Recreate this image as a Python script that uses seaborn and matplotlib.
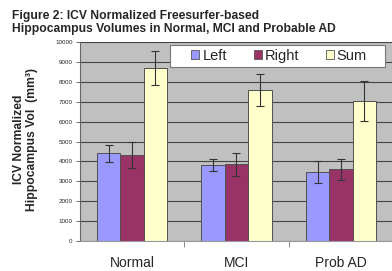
import matplotlib
matplotlib.use("Agg")
import matplotlib.pyplot as plt
import matplotlib.patches as mpatches
import seaborn as sns
import pandas as pd

groups = ["Normal", "MCI", "Prob AD"]
series = ["Left", "Right", "Sum"]
left_vals = [4400, 3800, 3470]
right_vals = [4320, 3850, 3600]
sum_vals = [8700, 7600, 7020]
left_err = [450, 300, 570]
right_err = [650, 580, 510]
sum_err = [860, 810, 1010]
colors = ["#9999ff", "#993366", "#ffffcc"]

df = pd.DataFrame({
    "group": groups * 3,
    "series": [s for s in series for _ in groups],
    "vol": left_vals + right_vals + sum_vals,
    "err": left_err + right_err + sum_err,
})

sns.set_style("white")
plt.rcParams["font.family"] = ["Liberation Sans", "DejaVu Sans"]

fig = plt.figure(figsize=(3.92, 2.71), dpi=100)
ax = fig.add_axes([0.2033, 0.1107, 0.80, 0.734])
ax.set_facecolor("#c0c0c0")

sns.barplot(data=df, x="group", y="vol", hue="series", order=groups,
            hue_order=series, palette=colors, saturation=1, width=0.67, gap=0,
            edgecolor="#505050", linewidth=0.7, errorbar=None, ax=ax, zorder=2)

# error bars placed on each seaborn bar
for cont, s in zip(ax.containers, series):
    sub = df[df.series == s].set_index("group").loc[groups]
    for bar, v, e in zip(cont, sub.vol, sub.err):
        cx = bar.get_x() + bar.get_width() / 2
        ax.errorbar(cx, v, yerr=e, color="#333333", lw=0.8, capsize=2.8,
                    capthick=0.8, zorder=3)

ax.set_ylim(0, 10000)
ax.set_xlim(-0.5, 2.5)
ax.set_yticks(range(0, 10001, 1000))
ax.yaxis.grid(True, color="#444444", lw=0.8, zorder=1)
ax.set_axisbelow(True)
ax.tick_params(axis="y", labelsize=4.5, length=3, width=0.6, color="#555555",
               left=True, pad=2)
ax.tick_params(axis="x", which="major", length=0, labelsize=10, pad=11)
ax.set_xticks([0.5, 1.5], minor=True)
ax.tick_params(axis="x", which="minor", length=4, width=0.6, color="#777777",
               bottom=True, direction="out")
ax.set_xlabel("")
ax.set_ylabel("")
for side in ["top", "right"]:
    ax.spines[side].set_visible(False)
ax.spines["left"].set_color("#666666")
ax.spines["left"].set_linewidth(0.8)
ax.spines["bottom"].set_color("#999999")
ax.spines["bottom"].set_linewidth(0.8)

# legend box (white, grey border) with the entries spread inside it
box = mpatches.Rectangle((0.289, 0.876), 0.683, 0.109, transform=ax.transAxes,
                         facecolor="white", edgecolor="#777777", lw=0.8,
                         zorder=4)
ax.add_patch(box)
leg = ax.legend(loc="center left", bbox_to_anchor=(0.356, 0.876, 0.56, 0.109),
                mode="expand", ncol=3, fontsize=10.5, frameon=False,
                handlelength=0.55, handleheight=0.55, handletextpad=0.2,
                borderpad=0, columnspacing=1.0, borderaxespad=0)
leg.set_zorder(5)
for h in leg.legend_handles:
    h.set_edgecolor("#555555")
    h.set_linewidth(0.6)

fig.text(0.031, 0.963, "Figure 2: ICV Normalized Freesurfer-based\n"
         "Hippocampus Volumes in Normal, MCI and Probable AD",
         ha="left", va="top", fontsize=8.7, fontweight="bold", linespacing=1.1)
fig.text(0.066, 0.487, "ICV Normalized\nHippocampus Vol  (mm³)",
         rotation=90, ha="center", va="center", fontsize=8.7,
         fontweight="bold", multialignment="center", linespacing=1.1)

fig.savefig("out.png", dpi=100)
